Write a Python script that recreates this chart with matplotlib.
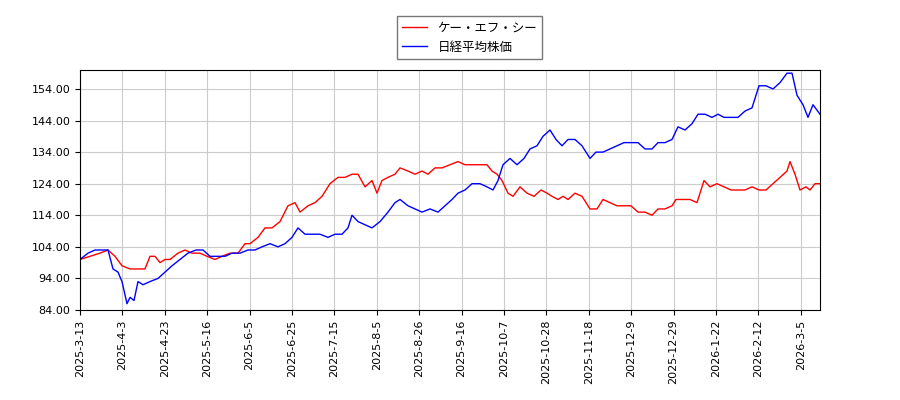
import matplotlib
matplotlib.use("Agg")
import matplotlib.pyplot as plt
import numpy as np

plt.rcParams['font.family'] = ['Noto Sans CJK JP', 'DejaVu Sans']

tick_labels = ["2025-3-13","2025-4-3","2025-4-23","2025-5-16","2025-6-5","2025-6-25",
               "2025-7-15","2025-8-5","2025-8-26","2025-9-16","2025-10-7","2025-10-28",
               "2025-11-18","2025-12-9","2025-12-29","2026-1-22","2026-2-12","2026-3-5"]

# pixel-read samples -> trading-day index (15 trading days per tick)
red_px = [80,90,100,108,115,122,130,138,145,150,155,160,165,170,178,185,192,200,207,215,222,230,238,245,250,258,265,272,280,288,295,300,308,315,322,330,338,345,352,358,365,372,377,382,388,395,400,408,415,422,428,435,442,450,458,465,472,480,487,492,497,502,508,513,520,527,534,541,547,552,558,563,568,575,582,590,597,603,610,617,624,631,638,645,652,658,665,672,676,685,690,697,704,710,717,724,731,738,745,752,759,766,773,780,787,790,795,800,806,810,815,820]
red_val = [100,101,102,103,101,98,97,97,97,101,101,99,100,100,102,103,102,102,101,100,101,102,102,105,105,107,110,110,112,117,118,115,117,118,120,124,126,126,127,127,123,125,121,125,126,127,129,128,127,128,127,129,129,130,131,130,130,130,130,128,127,125,121,120,123,121,120,122,121,120,119,120,119,121,120,116,116,119,118,117,117,117,115,115,114,116,116,117,119,119,119,118,125,123,124,123,122,122,122,123,122,122,124,126,128,131,127,122,123,122,124,124]
blue_px = [80,88,95,103,108,113,118,122,127,130,134,138,143,150,158,165,172,180,188,196,203,210,218,225,232,240,248,255,262,270,278,285,292,298,305,312,320,328,335,342,348,352,358,365,372,380,388,395,400,408,415,422,430,438,445,452,458,465,472,480,487,493,498,503,510,517,524,530,537,543,550,556,562,568,575,582,590,596,603,610,617,624,631,638,645,652,658,665,672,678,685,692,698,705,712,718,724,731,738,745,752,759,766,773,780,787,792,797,803,808,813,820]
blue_val = [100,102,103,103,103,97,96,93,86,88,87,93,92,93,94,96,98,100,102,103,103,101,101,101,102,102,103,103,104,105,104,105,107,110,108,108,108,107,108,108,110,114,112,111,110,112,115,118,119,117,116,115,116,115,117,119,121,122,124,124,123,122,125,130,132,130,132,135,136,139,141,138,136,138,138,136,132,134,134,135,136,137,137,137,135,135,137,137,138,142,141,143,146,146,145,146,145,145,145,147,148,155,155,154,156,159,159,152,149,145,149,146]

red_x = (np.array(red_px) - 80) / 42.4 * 15
blue_x = (np.array(blue_px) - 80) / 42.4 * 15

fig = plt.figure(figsize=(9, 4), dpi=100)
ax = fig.add_axes([80/900, 90/400, 740/900, 240/400])
ax.plot(red_x, red_val, color='red', lw=1, label='ケー・エフ・シー')
ax.plot(blue_x, blue_val, color='blue', lw=1, label='日経平均株価')
ax.set_xlim(0, (820-80)/42.4*15)
ax.set_ylim(84, 160)
ax.set_yticks(np.arange(84, 160, 10))
ax.set_yticklabels([f"{v:.2f}" for v in np.arange(84, 160, 10)], fontsize=8, family='DejaVu Sans')
ax.set_xticks(np.arange(len(tick_labels)) * 15)
ax.set_xticklabels(tick_labels, rotation=90, fontsize=8, family='DejaVu Sans')
ax.grid(True, color='#cccccc', lw=0.8)
fig.legend(loc='upper center', bbox_to_anchor=(0.522, 0.975), fontsize=9, fancybox=False, edgecolor='#555555')
fig.savefig("out.png")
